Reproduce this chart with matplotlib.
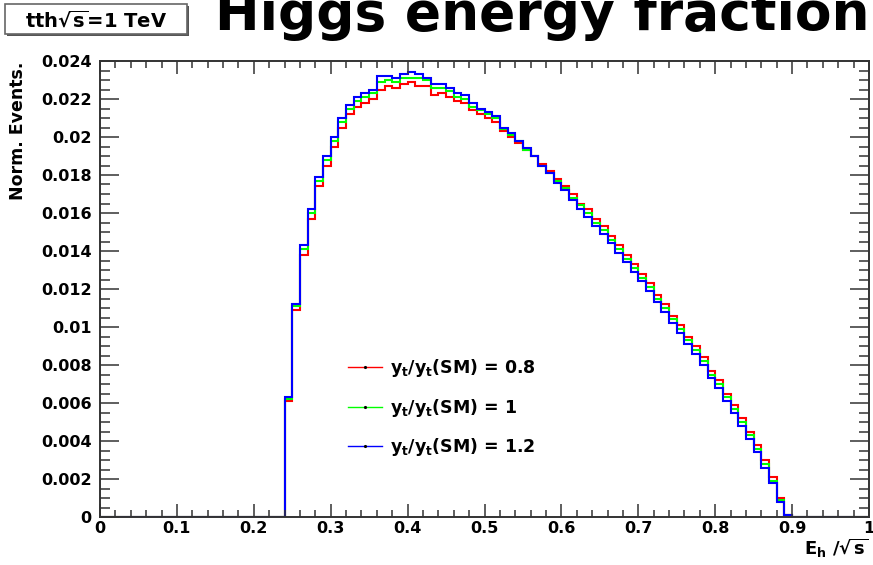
import numpy as np
import matplotlib
matplotlib.use('Agg')
import matplotlib.pyplot as plt
from matplotlib.ticker import MultipleLocator, FuncFormatter
from matplotlib.lines import Line2D
from matplotlib.patches import Rectangle

plt.rcParams['font.family'] = 'DejaVu Sans'
plt.rcParams['font.weight'] = 'bold'
plt.rcParams['mathtext.fontset'] = 'dejavusans'
plt.rcParams['mathtext.default'] = 'bf'

# bin edges: 100 bins of 0.01 from 0 to 1; non-zero bins start at 0.24
edges = np.linspace(0, 1, 101)
n_lead = 24
n_tail = 10

# y_t/y_t(SM) = 0.8
h_08 = [0.0061, 0.0109, 0.0138, 0.0157, 0.0174, 0.0185, 0.0195, 0.0205, 0.0212, 0.0216,
        0.0218, 0.0220, 0.0225, 0.0227, 0.0226, 0.0228, 0.0229, 0.0227, 0.0227, 0.0222,
        0.0223, 0.0221, 0.0219, 0.0218, 0.0214, 0.0212, 0.0210, 0.0208, 0.0203, 0.0200,
        0.0197, 0.0193, 0.0190, 0.0186, 0.0182, 0.0178, 0.0174, 0.0170, 0.0165, 0.0162,
        0.0157, 0.0153, 0.0148, 0.0143, 0.0138, 0.0133, 0.0128, 0.0123, 0.0117, 0.0112,
        0.0106, 0.0101, 0.0095, 0.0090, 0.0084, 0.0077, 0.0072, 0.0065, 0.0059, 0.0052,
        0.0045, 0.0038, 0.0030, 0.0021, 0.0010, 0.0001]
# y_t/y_t(SM) = 1
h_10 = [0.0062, 0.0111, 0.0141, 0.0160, 0.0177, 0.0188, 0.0198, 0.0208, 0.0215, 0.0219,
        0.0221, 0.0223, 0.0229, 0.0230, 0.0229, 0.0231, 0.0231, 0.0231, 0.0230, 0.0226,
        0.0226, 0.0224, 0.0221, 0.0220, 0.0216, 0.0214, 0.0212, 0.0210, 0.0204, 0.0201,
        0.0198, 0.0193, 0.0190, 0.0185, 0.0181, 0.0177, 0.0173, 0.0168, 0.0164, 0.0160,
        0.0155, 0.0151, 0.0146, 0.0141, 0.0136, 0.0131, 0.0126, 0.0121, 0.0115, 0.0110,
        0.0104, 0.0099, 0.0093, 0.0088, 0.0082, 0.0075, 0.0070, 0.0063, 0.0057, 0.0050,
        0.0043, 0.0036, 0.0028, 0.0019, 0.0009, 0.0001]
# y_t/y_t(SM) = 1.2
h_12 = [0.0063, 0.0112, 0.0143, 0.0162, 0.0179, 0.0190, 0.0200, 0.0210, 0.0217, 0.0221,
        0.0223, 0.0225, 0.0232, 0.0232, 0.0231, 0.0233, 0.0234, 0.0233, 0.0231, 0.0228,
        0.0228, 0.0226, 0.0223, 0.0222, 0.0218, 0.0215, 0.0213, 0.0211, 0.0205, 0.0202,
        0.0198, 0.0194, 0.0190, 0.0185, 0.0181, 0.0176, 0.0172, 0.0167, 0.0162, 0.0158,
        0.0153, 0.0149, 0.0144, 0.0139, 0.0134, 0.0129, 0.0124, 0.0119, 0.0113, 0.0108,
        0.0102, 0.0097, 0.0091, 0.0086, 0.0080, 0.0073, 0.0068, 0.0061, 0.0055, 0.0048,
        0.0041, 0.0034, 0.0026, 0.0018, 0.0008, 0.0001]

series = [(h_08, '#ff0000', r'$y_t/y_t$(SM) = 0.8'),
          (h_10, '#00ff00', r'$y_t/y_t$(SM) = 1'),
          (h_12, '#0000ff', r'$y_t/y_t$(SM) = 1.2')]

fig = plt.figure(figsize=(8.73, 5.65), dpi=100)
ax = fig.add_axes([100/873, 1-517/565, 769/873, 456/565])

handles = []
for vals, col, lab in series:
    full = np.concatenate([np.zeros(n_lead), vals, np.zeros(n_tail)])
    ax.stairs(full, edges, color=col, linewidth=1.5)
    handles.append(Line2D([], [], color=col, linewidth=1.0, marker='.',
                          markersize=2.5, markerfacecolor='black',
                          markeredgecolor='black', label=lab))

ax.set_xlim(0, 1)
ax.set_ylim(0, 0.024)
ax.xaxis.set_major_locator(MultipleLocator(0.1))
ax.xaxis.set_minor_locator(MultipleLocator(0.02))
ax.yaxis.set_major_locator(MultipleLocator(0.002))
ax.yaxis.set_minor_locator(MultipleLocator(0.0005))
fmt = FuncFormatter(lambda v, p: '%g' % round(v, 6))
ax.xaxis.set_major_formatter(fmt)
ax.yaxis.set_major_formatter(fmt)
ax.tick_params(axis='both', which='both', direction='in', top=True, right=True,
               colors='#333333', labelcolor='black', labelsize=11.5)
ax.tick_params(axis='x', which='major', length=9.5, width=1.1, pad=3)
ax.tick_params(axis='x', which='minor', length=5, width=1.1)
ax.tick_params(axis='y', which='major', length=14, width=1.1, pad=6)
ax.tick_params(axis='y', which='minor', length=7, width=1.1)
for sp in ax.spines.values():
    sp.set_linewidth(1.4)
    sp.set_color('#333333')

ax.legend(handles=handles, loc='upper left', bbox_to_anchor=(0.3225, 0.35),
          frameon=False, fontsize=12.5, handlelength=1.95, handletextpad=0.45,
          labelspacing=1.0, borderpad=0, borderaxespad=0, numpoints=1)

fig.text(18/873, 1-62/565, 'Norm. Events.', rotation=90, ha='center', va='top',
         fontsize=12.5)
fig.text(868/873, 1-548/565, r'E$_\mathbf{h}$ /$\sqrt{\mathbf{s}}$', ha='right',
         va='center', fontsize=13)

fig.text(215/873, 1-30/565, 'Higgs energy fraction', ha='left', va='baseline',
         fontsize=38.5)

# pave with the energy label (box plus a thin shadow)
fig.patches.append(Rectangle((7/873, 1-36/565), 182/873, 30/565,
                             transform=fig.transFigure, fc='#555555', ec='none'))
fig.patches.append(Rectangle((5/873, 1-34/565), 182/873, 30/565,
                             transform=fig.transFigure, fc='white', ec='#666666', lw=1.2))
fig.text(96/873, 1-20/565, r'tth$\sqrt{\mathbf{s}}$=1 TeV', ha='center',
         va='center', fontsize=14)

fig.savefig('out.png', dpi=100)
